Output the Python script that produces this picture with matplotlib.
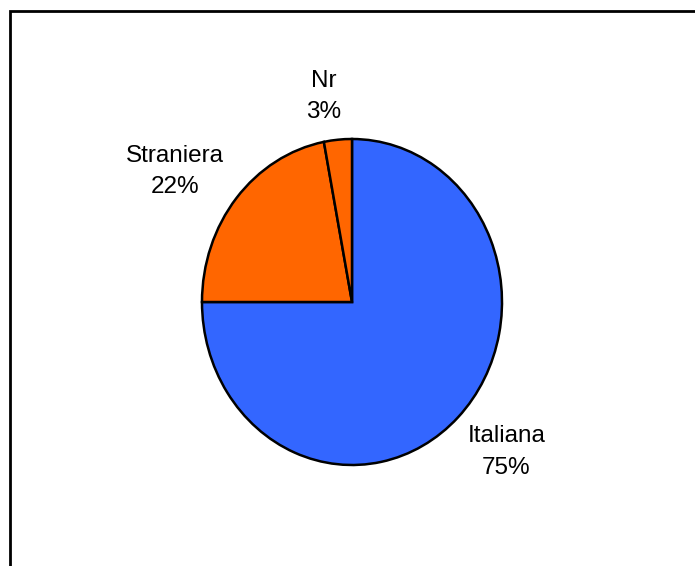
import matplotlib.pyplot as plt
from matplotlib.patches import Rectangle

plt.rcParams['font.family'] = ['Liberation Sans', 'DejaVu Sans']

# nazionalità
categorie = ["Italiana", "Straniera", "Nr"]
percentuali = [75, 22, 3]
colori = ["#3366FF", "#FF6600", "#FF6600"]

# posizione delle etichette (coordinate del grafico)
pos_etichette = [(1.03, -0.92), (-1.18, 0.80), (-0.19, 1.26)]

W, H = 695, 566
fig = plt.figure(figsize=(W / 100, H / 100), dpi=100)

# cornice del grafico
fig.patches.append(Rectangle((10 / W, -0.1), 1.2, (H - 11) / H + 0.1,
                             transform=fig.transFigure, fill=False,
                             edgecolor="black", linewidth=2.0))

# torta leggermente ellittica: raggio 150 px in orizzontale, 163 px in verticale
cx, cy = 352, H - 302
rx, ry = 150, 163
pad = 1.1
ax = fig.add_axes([(cx - rx * pad) / W, (cy - ry * pad) / H,
                   2 * rx * pad / W, 2 * ry * pad / H])

etichette = [f"{c}\n{p}%" for c, p in zip(categorie, percentuali)]
wedges, texts = ax.pie(percentuali, labels=etichette, colors=colori,
                       startangle=90, counterclock=False,
                       wedgeprops=dict(edgecolor="black", linewidth=1.8),
                       textprops=dict(fontsize=17.5))
for t, (x, y) in zip(texts, pos_etichette):
    t.set_position((x, y))
    t.set_ha("center")
    t.set_va("center")
    t.set_linespacing(1.55)

ax.set_aspect("auto")
ax.set_xlim(-pad, pad)
ax.set_ylim(-pad, pad)
ax.axis("off")

fig.savefig("out.png", dpi=100)
